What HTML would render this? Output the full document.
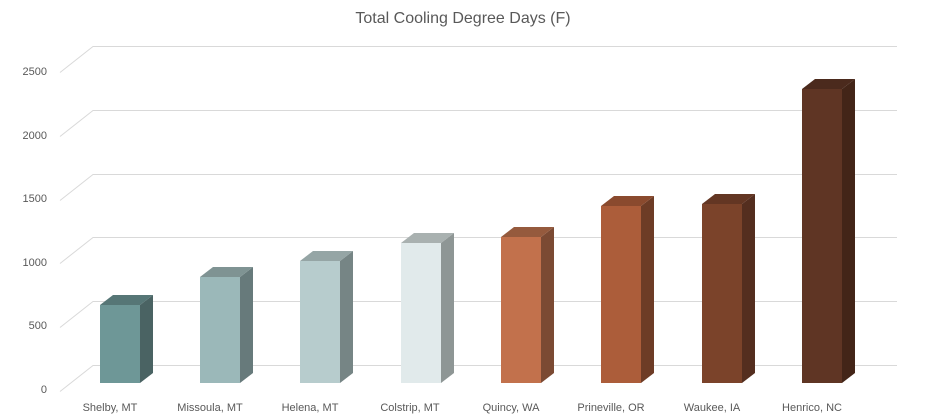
<!DOCTYPE html>
<html><head><meta charset="utf-8"><style>
html,body{margin:0;padding:0;background:#fff;}
svg{display:block;font-family:"Liberation Sans",sans-serif;}
</style></head><body>
<svg width="925" height="419" viewBox="0 0 925 419" xmlns="http://www.w3.org/2000/svg">
<text x="463" y="23" text-anchor="middle" font-size="16" fill="#595959">Total Cooling Degree Days (F)</text>
<g stroke="#d9d9d9" stroke-width="1" fill="none">
<path d="M60 72.5 L93 46.5 L897 46.5"/>
<path d="M60 136.5 L93 110.5 L897 110.5"/>
<path d="M60 200.5 L93 174.5 L897 174.5"/>
<path d="M60 263.5 L93 237.5 L897 237.5"/>
<path d="M60 327.5 L93 301.5 L897 301.5"/>
<path d="M60 391.5 L93 365.5 L897 365.5"/>
</g>
<g font-size="11" fill="#595959" text-anchor="end">
<text x="47" y="75">2500</text>
<text x="47" y="139">2000</text>
<text x="47" y="202">1500</text>
<text x="47" y="266">1000</text>
<text x="47" y="329">500</text>
<text x="47" y="393">0</text>
</g>
<g font-size="11" fill="#595959" text-anchor="middle">
<text x="110" y="411">Shelby, MT</text>
<text x="210" y="411">Missoula, MT</text>
<text x="310" y="411">Helena, MT</text>
<text x="410" y="411">Colstrip, MT</text>
<text x="511" y="411">Quincy, WA</text>
<text x="611" y="411">Prineville, OR</text>
<text x="712" y="411">Waukee, IA</text>
<text x="812" y="411">Henrico, NC</text>
</g>
<g>
<polygon points="140,305 153,295 153,373 140,383" fill="#4a6363"/>
<polygon points="100,305 113,295 153,295 140,305" fill="#567676"/>
<rect x="100" y="305" width="40" height="78" fill="#6e9797"/>

<polygon points="240,277 253,267 253,373 240,383" fill="#677a7b"/>
<polygon points="200,277 213,267 253,267 240,277" fill="#7f9393"/>
<rect x="200" y="277" width="40" height="106" fill="#9bb8b9"/>

<polygon points="340,261 353,251 353,373 340,383" fill="#768585"/>
<polygon points="300,261 313,251 353,251 340,261" fill="#95a5a5"/>
<rect x="300" y="261" width="40" height="122" fill="#b7cccd"/>

<polygon points="441,243 454,233 454,373 441,383" fill="#8e9695"/>
<polygon points="401,243 414,233 454,233 441,243" fill="#a9b1b0"/>
<rect x="401" y="243" width="40" height="140" fill="#e1eaeb"/>

<polygon points="541,237 554,227 554,373 541,383" fill="#7b4a33"/>
<polygon points="501,237 514,227 554,227 541,237" fill="#955a3d"/>
<rect x="501" y="237" width="40" height="146" fill="#c2714c"/>

<polygon points="641,206 654,196 654,373 641,383" fill="#6d3c26"/>
<polygon points="601,206 614,196 654,196 641,206" fill="#8a4a2e"/>
<rect x="601" y="206" width="40" height="177" fill="#ac5d3a"/>

<polygon points="742,204 755,194 755,373 742,383" fill="#542e1f"/>
<polygon points="702,204 715,194 755,194 742,204" fill="#633623"/>
<rect x="702" y="204" width="40" height="179" fill="#7b432a"/>

<polygon points="842,89 855,79 855,373 842,383" fill="#432518"/>
<polygon points="802,89 815,79 855,79 842,89" fill="#4b2a1d"/>
<rect x="802" y="89" width="40" height="294" fill="#5f3524"/>
</g>
</svg>
</body></html>
